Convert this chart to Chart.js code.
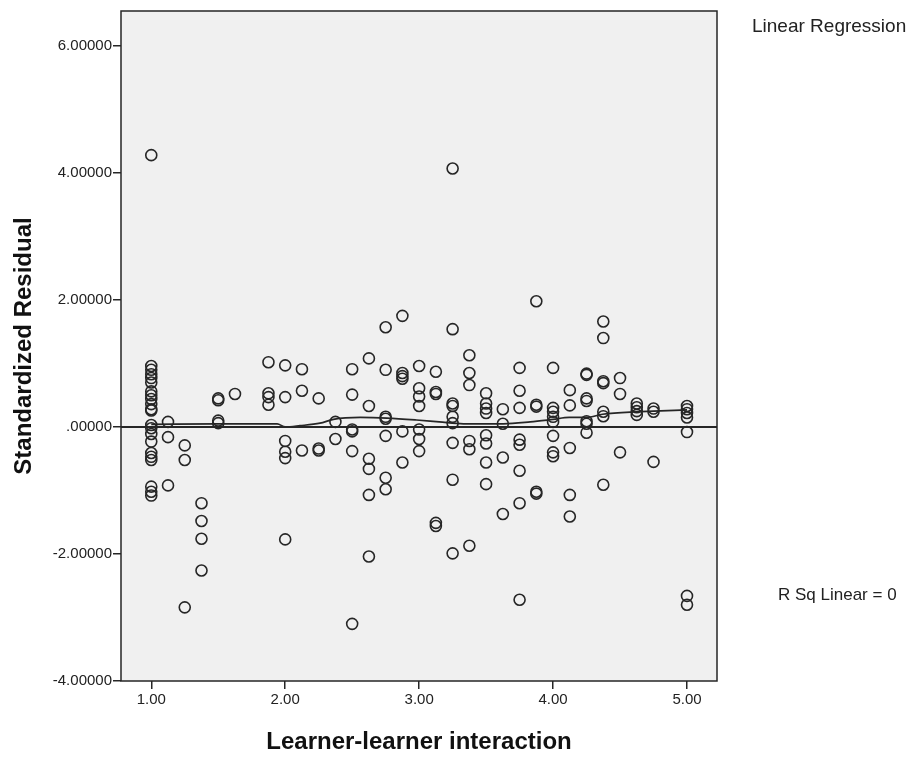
<!DOCTYPE html>
<html>
<head>
<meta charset="utf-8">
<script src="https://cdn.jsdelivr.net/npm/chart.js@4.4.0/dist/chart.umd.min.js"></script>
<style>
  html, body { margin: 0; padding: 0; background: #fff; }
  #wrap { width: 920px; height: 761px; }
</style>
</head>
<body>
<div id="wrap"><canvas id="chart" width="920" height="761"></canvas></div>
<script>
// learner-learner interaction levels and the standardized residuals seen at each level
const xLevels = [1.0, 1.125, 1.25, 1.375, 1.5, 1.625, 1.875, 2.0, 2.125, 2.25, 2.375, 2.5, 2.625, 2.75, 2.875,
  3.0, 3.125, 3.25, 3.375, 3.5, 3.625, 3.75, 3.875, 4.0, 4.125, 4.25, 4.375, 4.5, 4.625, 4.75, 5.0];
const residuals = [
  [4.28, 0.96, 0.90, 0.83, 0.77, 0.70, 0.56, 0.50, 0.44, 0.36, 0.28, 0.26, 0.03, -0.02, -0.11, -0.23, -0.41, -0.47, -0.52, -0.94, -1.02, -1.08],
  [0.08, -0.16, -0.92],
  [-0.29, -0.52, -2.84],
  [-1.20, -1.48, -1.76, -2.26],
  [0.42, 0.45, 0.10, 0.06],
  [0.52],
  [1.02, 0.53, 0.47, 0.35],
  [0.97, 0.47, -0.22, -0.39, -0.49, -1.77],
  [0.91, 0.57, -0.37],
  [0.45, -0.34, -0.37],
  [0.08, -0.19],
  [0.91, 0.51, -0.04, -0.07, -0.38, -3.10],
  [1.08, 0.33, -0.50, -0.66, -1.07, -2.04],
  [1.57, 0.90, 0.16, 0.13, -0.14, -0.80, -0.98],
  [1.75, 0.85, 0.80, 0.76, -0.07, -0.56],
  [0.96, 0.61, 0.48, 0.33, -0.04, -0.19, -0.38],
  [0.87, 0.55, 0.52, -1.51, -1.56],
  [4.07, 1.54, 0.37, 0.33, 0.16, 0.06, -0.25, -0.83, -1.99],
  [1.13, 0.85, 0.66, -0.22, -0.35, -1.87],
  [0.53, 0.37, 0.29, 0.22, -0.13, -0.26, -0.56, -0.90],
  [0.28, 0.05, -0.48, -1.37],
  [0.93, 0.57, 0.30, -0.20, -0.28, -0.69, -1.20, -2.72],
  [1.98, 0.35, 0.32, -1.02, -1.05],
  [0.93, 0.30, 0.24, 0.16, 0.08, -0.14, -0.40, -0.46],
  [0.58, 0.34, -0.33, -1.07, -1.41],
  [0.84, 0.82, 0.45, 0.41, 0.09, 0.05, -0.09],
  [1.66, 1.40, 0.72, 0.69, 0.24, 0.17, -0.91],
  [0.77, 0.52, -0.40],
  [0.37, 0.31, 0.25, 0.19],
  [0.29, 0.24, -0.55],
  [0.33, 0.28, 0.22, 0.15, -0.08, -2.66, -2.80]
];

// loess-like smoother
const smoothX = [1.0, 1.5, 1.94, 2.0, 2.11, 2.26, 2.36, 2.56, 2.76, 2.98, 3.15, 3.33, 3.63, 3.83, 4.0, 4.12, 4.25, 4.37, 4.62, 4.75, 5.0];
const smoothY = [0.04, 0.05, 0.05, 0.0, 0.02, 0.06, 0.12, 0.15, 0.14, 0.11, 0.08, 0.05, 0.05, 0.08, 0.12, 0.15, 0.15, 0.20, 0.24, 0.25, 0.27];

// linear fit (R sq = 0) sits at zero
const fitY = 0;

const xTicks = [1, 2, 3, 4, 5];
const yTicks = [-4, -2, 0, 2, 4, 6];
const xMin = 0.774, xMax = 5.224;
const yMin = -4, yMax = 6.55;

const points = [];
xLevels.forEach((x, i) => residuals[i].forEach(y => points.push({ x: x, y: y })));

const ink = '#262626';
const fontFamily = '"Liberation Sans", Arial, sans-serif';

const plotFrame = {
  id: 'plotFrame',
  beforeDraw(chart) {
    const { ctx, chartArea: a } = chart;
    ctx.save();
    ctx.fillStyle = '#f0f0f0';
    ctx.fillRect(a.left, a.top, a.right - a.left, a.bottom - a.top);
    ctx.restore();
  },
  afterDraw(chart) {
    const { ctx, chartArea: a } = chart;
    ctx.save();
    ctx.strokeStyle = ink;
    ctx.lineWidth = 1.5;
    ctx.strokeRect(a.left, a.top, a.right - a.left, a.bottom - a.top);
    ctx.fillStyle = '#222';
    ctx.textBaseline = 'middle';
    ctx.textAlign = 'left';
    ctx.font = '19px ' + fontFamily;
    ctx.fillText('Linear Regression', 752, 27);
    ctx.font = '17px ' + fontFamily;
    ctx.fillText('R Sq Linear = 0', 778, 595);
    ctx.restore();
  }
};

new Chart(document.getElementById('chart'), {
  type: 'scatter',
  data: {
    datasets: [
      {
        label: 'Residuals',
        data: points,
        pointStyle: 'circle',
        pointRadius: 5.5,
        pointHoverRadius: 5.5,
        borderWidth: 1.6,
        borderColor: ink,
        backgroundColor: 'rgba(0,0,0,0)',
        order: 1
      },
      {
        label: 'Linear',
        type: 'line',
        data: [{ x: xMin, y: fitY }, { x: xMax, y: fitY }],
        borderColor: ink,
        borderWidth: 2,
        pointRadius: 0,
        order: 2
      },
      {
        label: 'Smoother',
        type: 'line',
        data: smoothX.map((x, i) => ({ x: x, y: smoothY[i] })),
        borderColor: ink,
        borderWidth: 1.7,
        pointRadius: 0,
        cubicInterpolationMode: 'monotone',
        order: 3
      }
    ]
  },
  options: {
    responsive: false,
    animation: false,
    layout: { padding: { top: 11, right: 203, left: 6, bottom: 0 } },
    plugins: { legend: { display: false }, tooltip: { enabled: false } },
    scales: {
      x: {
        type: 'linear',
        min: xMin,
        max: xMax,
        afterBuildTicks(scale) { scale.ticks = xTicks.map(v => ({ value: v })); },
        afterFit(scale) { scale.height = 80; },
        ticks: {
          color: '#222',
          font: { family: fontFamily, size: 15 },
          padding: 2,
          callback: v => v.toFixed(2)
        },
        grid: { drawOnChartArea: false, drawTicks: true, tickLength: 8, color: ink, lineWidth: 1.5 },
        border: { display: false },
        title: {
          display: true,
          text: 'Learner-learner interaction',
          color: '#111',
          font: { family: fontFamily, size: 24, weight: 'bold' },
          padding: { top: 10 }
        }
      },
      y: {
        type: 'linear',
        min: yMin,
        max: yMax,
        afterBuildTicks(scale) { scale.ticks = yTicks.map(v => ({ value: v })); },
        afterFit(scale) { scale.width = 115; },
        ticks: {
          color: '#222',
          font: { family: fontFamily, size: 15 },
          padding: 1,
          callback: v => v === 0 ? '.00000' : v.toFixed(5)
        },
        grid: { drawOnChartArea: false, drawTicks: true, tickLength: 8, color: ink, lineWidth: 1.5 },
        border: { display: false },
        title: {
          display: true,
          text: 'Standardized Residual',
          color: '#111',
          font: { family: fontFamily, size: 24, weight: 'bold' },
          padding: { bottom: 2 }
        }
      }
    }
  },
  plugins: [plotFrame]
});
</script>
</body>
</html>
